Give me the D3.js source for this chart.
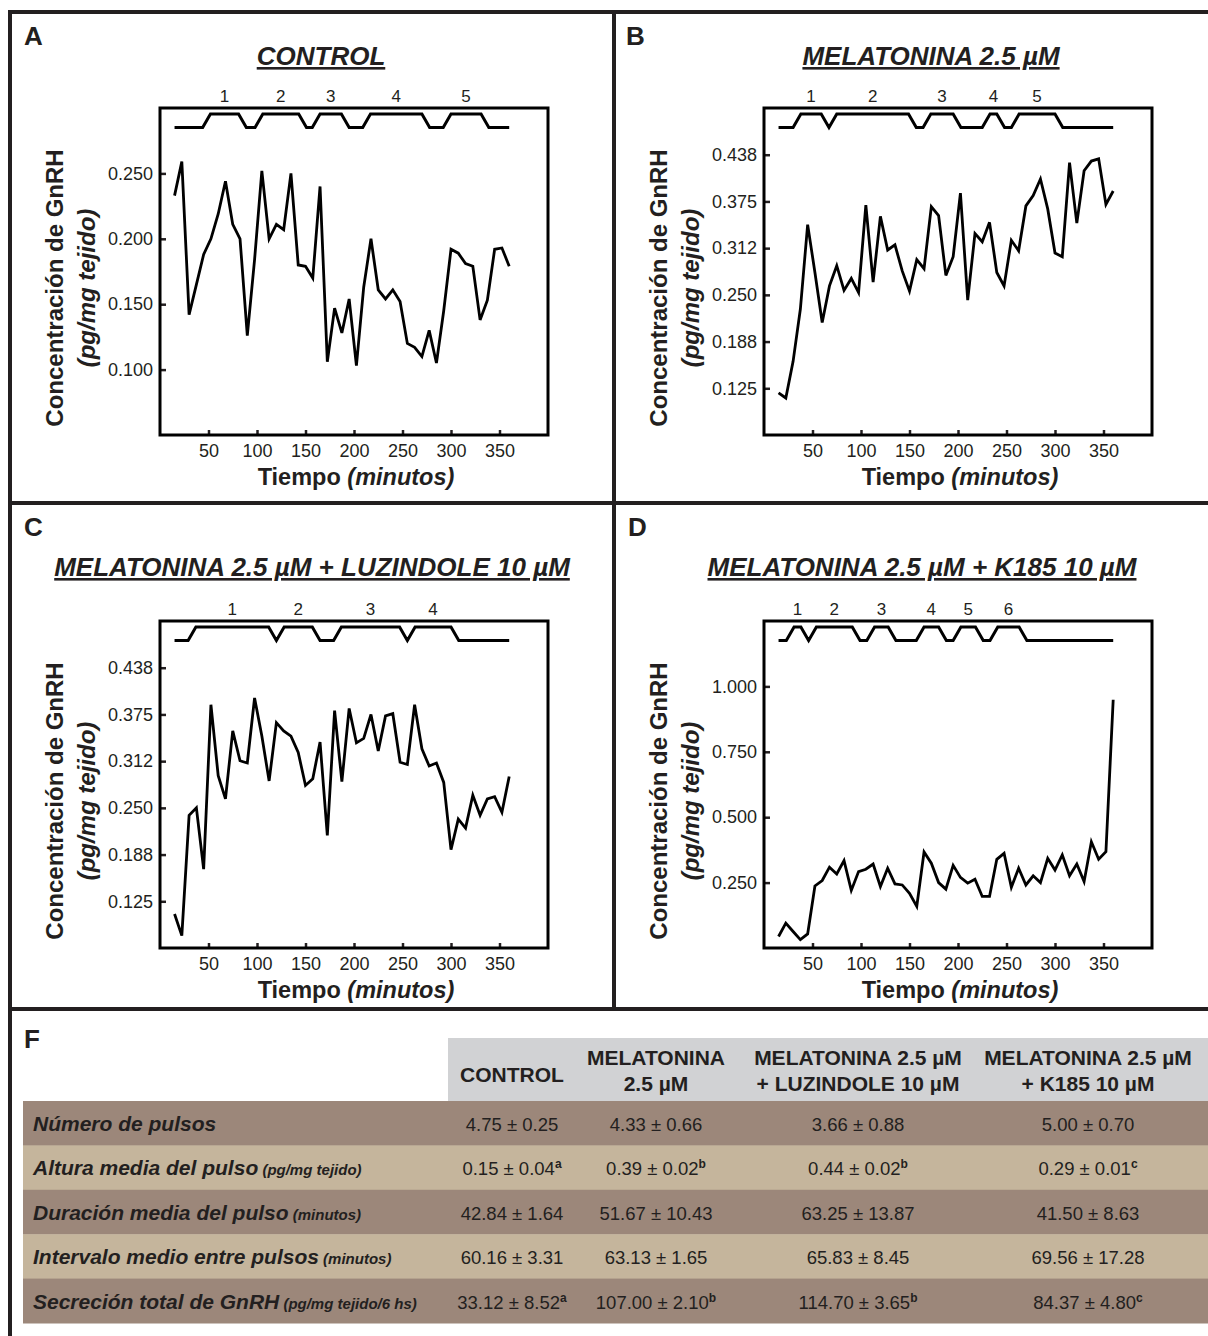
<!DOCTYPE html>
<html>
<head>
<meta charset="utf-8">
<script src="https://cdn.jsdelivr.net/npm/d3@7"></script>
<style>
body { margin: 0; background: #fff; }
text { font-family: "Liberation Sans", Arial, sans-serif; fill: #231f20; }
</style>
</head>
<body>
<script>
// sampling times (minutes)
var times = [15,22.5,30,37.5,45,52.5,60,67.5,75,82.5,90,97.5,105,112.5,120,127.5,135,142.5,150,157.5,
  165,172.5,180,187.5,195,202.5,210,217.5,225,232.5,240,247.5,255,262.5,270,277.5,285,292.5,300,307.5,
  315,322.5,330,337.5,345,352.5,360];

// GnRH (pg/mg tejido)
var gnrhControl = [0.233,0.259,0.142,0.165,0.188,0.200,0.219,0.244,0.211,0.200,0.126,0.184,0.252,0.200,0.211,0.207,
  0.250,0.180,0.179,0.170,0.240,0.106,0.147,0.128,0.154,0.103,0.163,0.200,0.161,0.154,0.161,0.152,0.120,0.117,
  0.110,0.130,0.105,0.145,0.192,0.189,0.181,0.179,0.138,0.153,0.192,0.193,0.179];
var gnrhMel = [0.119,0.112,0.161,0.231,0.344,0.280,0.213,0.262,0.289,0.256,0.272,0.253,0.370,0.267,0.355,0.310,
  0.317,0.282,0.255,0.297,0.285,0.368,0.356,0.276,0.301,0.386,0.243,0.332,0.321,0.347,0.280,0.262,0.323,0.309,
  0.369,0.383,0.405,0.365,0.306,0.301,0.427,0.346,0.416,0.429,0.432,0.371,0.389];
var gnrhLuz = [0.108,0.079,0.240,0.250,0.168,0.388,0.293,0.262,0.353,0.313,0.310,0.397,0.346,0.286,0.364,0.353,
  0.346,0.324,0.280,0.289,0.338,0.213,0.380,0.285,0.383,0.337,0.343,0.375,0.326,0.373,0.376,0.311,0.308,0.388,
  0.329,0.306,0.310,0.284,0.194,0.235,0.223,0.267,0.240,0.262,0.265,0.244,0.292];
var gnrhK185 = [0.044,0.095,0.063,0.032,0.054,0.237,0.258,0.309,0.283,0.334,0.220,0.292,0.301,0.321,0.235,0.305,
  0.245,0.241,0.209,0.159,0.367,0.324,0.250,0.225,0.316,0.270,0.248,0.263,0.197,0.197,0.339,0.362,0.232,0.305,
  0.241,0.276,0.250,0.343,0.298,0.356,0.276,0.321,0.254,0.406,0.339,0.368,0.949];

// detected pulses [start, end] in minutes
var pulsesControl = [[44,89],[98,151],[157,195],[209,278],[292,339]];
var pulsesMel = [[30,67],[67,157],[164,203],[225,248],[255,308]];
var pulsesLuz = [[29,120],[120,165],[179,255],[255,308]];
var pulsesK185 = [[23,46],[46,99],[106,136],[157,188],[195,226],[233,271]];

// axis ticks
var xTicks = [50,100,150,200,250,300,350];
var yTicksControl = [0.100,0.150,0.200,0.250];
var yLabelsControl = ["0.100","0.150","0.200","0.250"];
var yTicksMel = [0.125,0.1875,0.25,0.3125,0.375,0.4375];
var yLabelsMel = ["0.125","0.188","0.250","0.312","0.375","0.438"];
var yTicksK185 = [0.25,0.5,0.75,1.0];
var yLabelsK185 = ["0.250","0.500","0.750","1.000"];

// table F
var tableCols = [["CONTROL"],["MELATONINA","2.5 µM"],["MELATONINA 2.5 µM","+ LUZINDOLE 10 µM"],["MELATONINA 2.5 µM","+ K185 10 µM"]];
var rowNames = ["Número de pulsos","Altura media del pulso","Duración media del pulso","Intervalo medio entre pulsos","Secreción total de GnRH"];
var rowUnits = ["","(pg/mg tejido)","(minutos)","(minutos)","(pg/mg tejido/6 hs)"];
var rowControl = [["4.75 ± 0.25",""],["0.15 ± 0.04","a"],["42.84 ± 1.64",""],["60.16 ± 3.31",""],["33.12 ± 8.52","a"]];
var rowMel = [["4.33 ± 0.66",""],["0.39 ± 0.02","b"],["51.67 ± 10.43",""],["63.13 ± 1.65",""],["107.00 ± 2.10","b"]];
var rowLuz = [["3.66 ± 0.88",""],["0.44 ± 0.02","b"],["63.25 ± 13.87",""],["65.83 ± 8.45",""],["114.70 ± 3.65","b"]];
var rowK185 = [["5.00 ± 0.70",""],["0.29 ± 0.01","c"],["41.50 ± 8.63",""],["69.56 ± 17.28",""],["84.37 ± 4.80","c"]];

var W = 1208, H = 1336;
var ink = "#231f20";

var svg = d3.select("body").append("svg")
  .attr("width", W)
  .attr("height", H);

// frame
var frame = [[8,12,1208,12],[10,10,10,1336],[614,10,614,1009],[8,503,1208,503],[8,1009,1208,1009]];
svg.selectAll("line.frame")
  .data(frame)
  .enter().append("line")
  .attr("class", "frame")
  .attr("x1", d => d[0]).attr("y1", d => d[1])
  .attr("x2", d => d[2]).attr("y2", d => d[3])
  .attr("stroke", ink)
  .attr("stroke-width", 4);

function drawPanel(p) {
  var pw = 388, ph = 327;
  var g = svg.append("g");

  var x = d3.scaleLinear().domain([0, 400]).range([p.left, p.left + pw]);
  var y = d3.scaleLinear().domain(p.yDomain).range([p.top + ph, p.top]);

  // letter and title
  g.append("text")
    .attr("x", 24 + p.dx).attr("y", p.rowTop + 33)
    .attr("font-size", 26).attr("font-weight", "bold")
    .text(p.letter);
  g.append("text")
    .attr("x", p.titleX).attr("y", p.titleY)
    .attr("text-anchor", "middle")
    .attr("font-size", 26).attr("font-weight", "bold").attr("font-style", "italic")
    .style("text-decoration", "underline")
    .text(p.title);

  // x axis
  var xAxis = d3.axisBottom(x).tickValues(xTicks).tickSize(-5).tickPadding(9);
  var gx = g.append("g")
    .attr("transform", "translate(0," + (p.top + ph) + ")")
    .call(xAxis);
  gx.select(".domain").remove();
  gx.selectAll("line").attr("stroke", ink).attr("stroke-width", 2.5);
  gx.selectAll("text").attr("font-size", 18).attr("font-family", null);

  // y axis
  var yAxis = d3.axisLeft(y).tickValues(p.yTicks).tickSize(-6).tickPadding(7)
    .tickFormat((d, i) => p.yLabels[i]);
  var gy = g.append("g")
    .attr("transform", "translate(" + p.left + ",0)")
    .call(yAxis);
  gy.select(".domain").remove();
  gy.selectAll("line").attr("stroke", ink).attr("stroke-width", 2.5);
  gy.selectAll("text").attr("font-size", 18).attr("font-family", null);

  // box
  g.append("rect")
    .attr("x", p.left).attr("y", p.top)
    .attr("width", pw).attr("height", ph)
    .attr("fill", "none").attr("stroke", "#000").attr("stroke-width", 3);

  // axis titles
  var cx = p.left - 105, cy = p.top + 180;
  g.append("text")
    .attr("transform", "translate(" + cx + "," + cy + ") rotate(-90)")
    .attr("text-anchor", "middle").attr("dy", "0.35em")
    .attr("font-size", 24).attr("font-weight", "bold")
    .text("Concentración de GnRH");
  g.append("text")
    .attr("transform", "translate(" + (cx + 32) + "," + cy + ") rotate(-90)")
    .attr("text-anchor", "middle").attr("dy", "0.35em")
    .attr("font-size", 24).attr("font-weight", "bold").attr("font-style", "italic")
    .text("(pg/mg tejido)");
  var xt = g.append("text")
    .attr("x", p.left + pw / 2 + 2).attr("y", p.top + ph + 50)
    .attr("text-anchor", "middle")
    .attr("font-size", 23.5).attr("font-weight", "bold");
  xt.append("tspan").text("Tiempo ");
  xt.append("tspan").attr("font-style", "italic").text("(minutos)");

  // pulse trace
  var w = 8, base = p.top + 19.5, amp = 13.5;
  var pts = [[times[0], 0]];
  p.pulses.forEach(function(q) {
    pts.push([q[0], 0], [q[0] + w, 1], [q[1] - w, 1], [q[1], 0]);
  });
  pts.push([times[times.length - 1], 0]);
  g.append("path")
    .datum(pts)
    .attr("fill", "none").attr("stroke", "#000").attr("stroke-width", 3)
    .attr("d", d3.line().x(d => x(d[0])).y(d => base - amp * d[1]));
  g.selectAll("text.pulse")
    .data(p.pulses)
    .enter().append("text")
    .attr("class", "pulse")
    .attr("x", d => x((d[0] + d[1]) / 2))
    .attr("y", p.top - 6)
    .attr("text-anchor", "middle")
    .attr("font-size", 17)
    .text((d, i) => i + 1);

  // data
  g.append("path")
    .datum(p.values)
    .attr("fill", "none").attr("stroke", "#000").attr("stroke-width", 2.8)
    .attr("d", d3.line().x((d, i) => x(times[i])).y(d => y(d)));
}

drawPanel({letter: "A", title: "CONTROL", titleX: 321, titleY: 65, rowTop: 12, dx: 0,
  left: 160, top: 108, yDomain: [0.05, 0.30], yTicks: yTicksControl, yLabels: yLabelsControl,
  values: gnrhControl, pulses: pulsesControl});
drawPanel({letter: "B", title: "MELATONINA 2.5 µM", titleX: 931, titleY: 65, rowTop: 12, dx: 602,
  left: 764, top: 108, yDomain: [0.0625, 0.5], yTicks: yTicksMel, yLabels: yLabelsMel,
  values: gnrhMel, pulses: pulsesMel});
drawPanel({letter: "C", title: "MELATONINA 2.5 µM + LUZINDOLE 10 µM", titleX: 312, titleY: 576, rowTop: 503, dx: 0,
  left: 160, top: 621, yDomain: [0.0625, 0.5], yTicks: yTicksMel, yLabels: yLabelsMel,
  values: gnrhLuz, pulses: pulsesLuz});
drawPanel({letter: "D", title: "MELATONINA 2.5 µM + K185 10 µM", titleX: 922, titleY: 576, rowTop: 503, dx: 604,
  left: 764, top: 621, yDomain: [0, 1.25], yTicks: yTicksK185, yLabels: yLabelsK185,
  values: gnrhK185, pulses: pulsesK185});

// ---- table F ----
var t = svg.append("g");
t.append("text").attr("x", 24).attr("y", 1048)
  .attr("font-size", 26).attr("font-weight", "bold").text("F");

var colX = [512, 656, 858, 1088];
var rowTop0 = 1101, rowH = 44.4;

t.append("rect").attr("x", 448).attr("y", 1038).attr("width", W - 448).attr("height", rowTop0 - 1038)
  .attr("fill", "#d1d2d4");

t.selectAll("rect.row")
  .data(rowNames)
  .enter().append("rect")
  .attr("class", "row")
  .attr("x", 23).attr("y", (d, i) => rowTop0 + i * rowH)
  .attr("width", W - 23).attr("height", rowH + 0.5)
  .attr("fill", (d, i) => i % 2 ? "#c5b59c" : "#9c877a");

tableCols.forEach(function(lines, j) {
  lines.forEach(function(s, k) {
    t.append("text")
      .attr("x", colX[j])
      .attr("y", lines.length === 1 ? 1082 : 1065 + k * 26)
      .attr("text-anchor", "middle")
      .attr("font-size", 21).attr("font-weight", "bold")
      .text(s);
  });
});

rowNames.forEach(function(name, i) {
  var tx = t.append("text")
    .attr("x", 33).attr("y", rowTop0 + i * rowH + 30)
    .attr("font-weight", "bold").attr("font-style", "italic");
  tx.append("tspan").attr("font-size", 21).text(name);
  if (rowUnits[i]) tx.append("tspan").attr("font-size", 15).text(" " + rowUnits[i]);
});

[rowControl, rowMel, rowLuz, rowK185].forEach(function(col, j) {
  col.forEach(function(v, i) {
    var tv = t.append("text")
      .attr("x", colX[j]).attr("y", rowTop0 + i * rowH + 30)
      .attr("text-anchor", "middle")
      .attr("font-size", 18.5);
    tv.append("tspan").text(v[0]);
    if (v[1]) tv.append("tspan").attr("dy", -7).attr("font-size", 12).attr("font-weight", "bold").text(v[1]);
  });
});
</script>
</body>
</html>
